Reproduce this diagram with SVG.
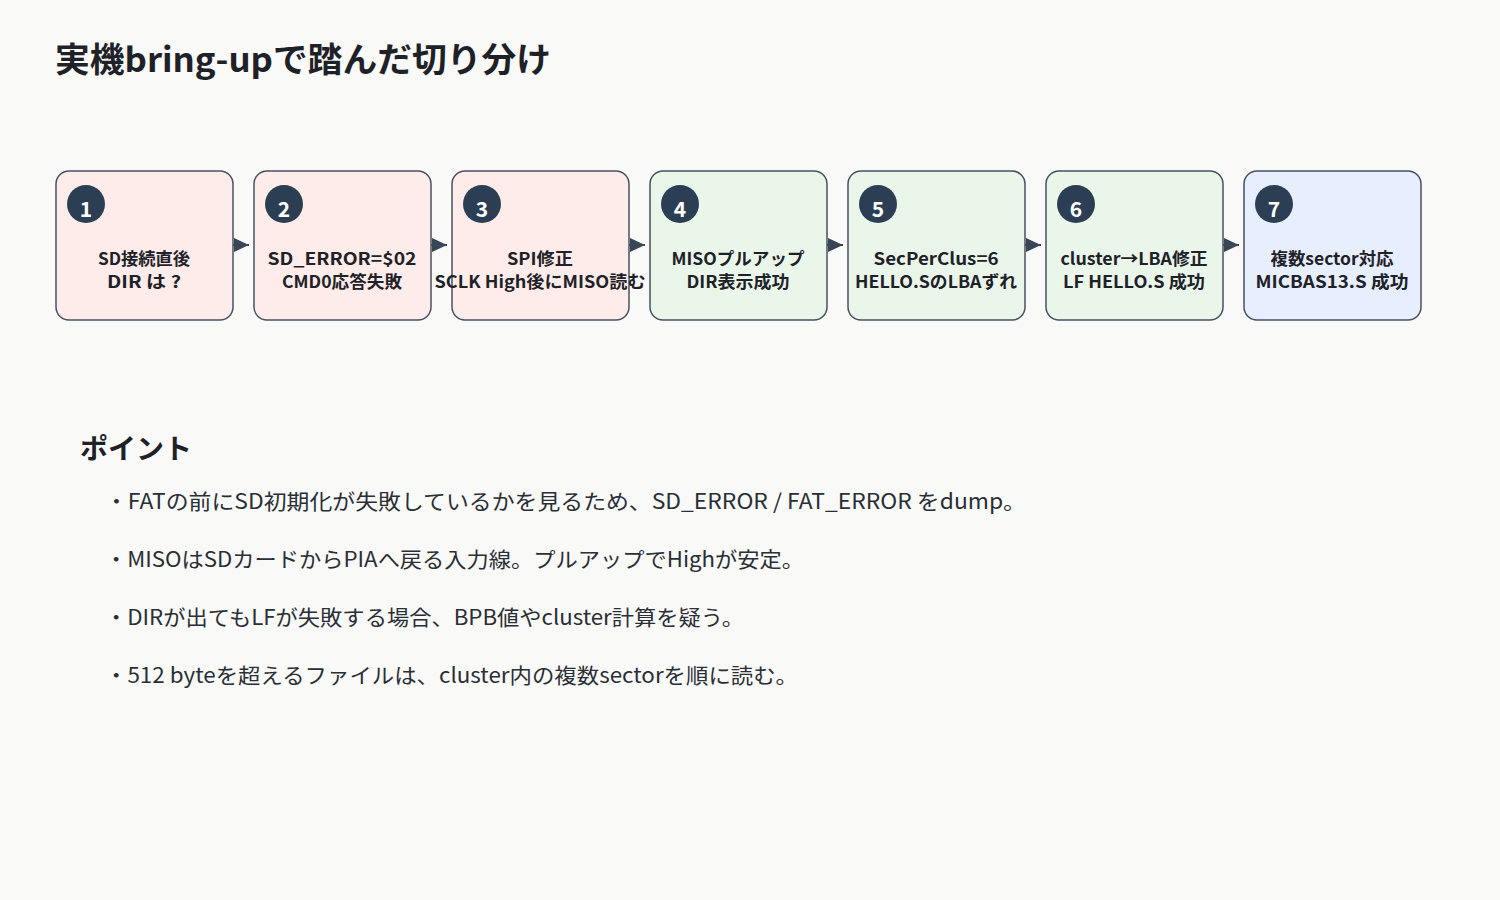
<svg xmlns="http://www.w3.org/2000/svg" width="1500" height="900" viewBox="0 0 1500 900">
<defs>
<style>
.bg{fill:#f9f9f7}
.box{stroke:#4a5160;stroke-width:1.5}
.red{fill:#feecea}
.green{fill:#eaf6ea}
.blue{fill:#e7eefd}
.badge{fill:#2c3e54}
.num{fill:#ffffff;font-family:"Noto Sans CJK JP","Liberation Sans",sans-serif;font-weight:700;font-size:21px;text-anchor:middle}
.lbl{fill:#1e2228;font-family:"Noto Sans CJK JP","Liberation Sans",sans-serif;font-weight:700;font-size:17px;text-anchor:middle}
.title{fill:#1e2228;font-family:"Noto Sans CJK JP","Liberation Sans",sans-serif;font-weight:700;font-size:34px}
.h2{fill:#1e2228;font-family:"Noto Sans CJK JP","Liberation Sans",sans-serif;font-weight:700;font-size:28px}
.body{fill:#2a2e35;font-family:"Noto Sans CJK JP","Liberation Sans",sans-serif;font-size:21px}
.conn{stroke:#3a4556;stroke-width:2;fill:none}
.head{fill:#3a4556}
</style>
<marker id="ah" markerWidth="16" markerHeight="16" refX="15" refY="8" orient="auto" markerUnits="userSpaceOnUse">
<path class="head" d="M0,1 L15,8 L0,15 Z"/>
</marker>
</defs>
<rect class="bg" x="0" y="0" width="1500" height="900"/>
<text class="title" x="55" y="72" textLength="496" lengthAdjust="spacingAndGlyphs">実機bring-upで踏んだ切り分け</text>

<g id="connectors">
<line class="conn" x1="233" y1="245" x2="249" y2="245" marker-end="url(#ah)"/>
<line class="conn" x1="431" y1="245" x2="447" y2="245" marker-end="url(#ah)"/>
<line class="conn" x1="629" y1="245" x2="645" y2="245" marker-end="url(#ah)"/>
<line class="conn" x1="827" y1="245" x2="843" y2="245" marker-end="url(#ah)"/>
<line class="conn" x1="1025" y1="245" x2="1041" y2="245" marker-end="url(#ah)"/>
<line class="conn" x1="1223" y1="245" x2="1239" y2="245" marker-end="url(#ah)"/>
</g>

<g id="node1">
<rect class="box red" x="56" y="171" width="177" height="149" rx="13"/>
<circle class="badge" cx="86" cy="204" r="19"/>
<text class="num" x="86" y="217">1</text>
<text class="lbl" x="144" y="265" textLength="92" lengthAdjust="spacingAndGlyphs">SD接続直後</text>
<text class="lbl" x="144" y="288" textLength="74" lengthAdjust="spacingAndGlyphs">DIR は ?</text>
</g>
<g id="node2">
<rect class="box red" x="254" y="171" width="177" height="149" rx="13"/>
<circle class="badge" cx="284" cy="204" r="19"/>
<text class="num" x="284" y="217">2</text>
<text class="lbl" x="342" y="265" textLength="149" lengthAdjust="spacingAndGlyphs">SD_ERROR=$02</text>
<text class="lbl" x="342" y="288" textLength="120" lengthAdjust="spacingAndGlyphs">CMD0応答失敗</text>
</g>
<g id="node3">
<rect class="box red" x="452" y="171" width="177" height="149" rx="13"/>
<circle class="badge" cx="482" cy="204" r="19"/>
<text class="num" x="482" y="217">3</text>
<text class="lbl" x="540" y="265" textLength="66" lengthAdjust="spacingAndGlyphs">SPI修正</text>
<text class="lbl" x="540" y="288" textLength="211" lengthAdjust="spacingAndGlyphs">SCLK High後にMISO読む</text>
</g>
<g id="node4">
<rect class="box green" x="650" y="171" width="177" height="149" rx="13"/>
<circle class="badge" cx="680" cy="204" r="19"/>
<text class="num" x="680" y="217">4</text>
<text class="lbl" x="738" y="265" textLength="133" lengthAdjust="spacingAndGlyphs">MISOプルアップ</text>
<text class="lbl" x="738" y="288" textLength="103" lengthAdjust="spacingAndGlyphs">DIR表示成功</text>
</g>
<g id="node5">
<rect class="box green" x="848" y="171" width="177" height="149" rx="13"/>
<circle class="badge" cx="878" cy="204" r="19"/>
<text class="num" x="878" y="217">5</text>
<text class="lbl" x="936" y="265" textLength="125" lengthAdjust="spacingAndGlyphs">SecPerClus=6</text>
<text class="lbl" x="936" y="288" textLength="162" lengthAdjust="spacingAndGlyphs">HELLO.SのLBAずれ</text>
</g>
<g id="node6">
<rect class="box green" x="1046" y="171" width="177" height="149" rx="13"/>
<circle class="badge" cx="1076" cy="204" r="19"/>
<text class="num" x="1076" y="217">6</text>
<text class="lbl" x="1134" y="265" textLength="147" lengthAdjust="spacingAndGlyphs">cluster→LBA修正</text>
<text class="lbl" x="1134" y="288" textLength="142" lengthAdjust="spacingAndGlyphs">LF HELLO.S 成功</text>
</g>
<g id="node7">
<rect class="box blue" x="1244" y="171" width="177" height="149" rx="13"/>
<circle class="badge" cx="1274" cy="204" r="19"/>
<text class="num" x="1274" y="217">7</text>
<text class="lbl" x="1332" y="265" textLength="123" lengthAdjust="spacingAndGlyphs">複数sector対応</text>
<text class="lbl" x="1332" y="288" textLength="153" lengthAdjust="spacingAndGlyphs">MICBAS13.S 成功</text>
</g>

<text class="h2" x="80" y="459">ポイント</text>
<text class="body" x="105" y="509" textLength="921" lengthAdjust="spacingAndGlyphs">・FATの前にSD初期化が失敗しているかを見るため、SD_ERROR / FAT_ERROR をdump。</text>
<text class="body" x="105" y="567" textLength="699" lengthAdjust="spacingAndGlyphs">・MISOはSDカードからPIAへ戻る入力線。プルアップでHighが安定。</text>
<text class="body" x="105" y="625" textLength="639" lengthAdjust="spacingAndGlyphs">・DIRが出てもLFが失敗する場合、BPB値やcluster計算を疑う。</text>
<text class="body" x="105" y="683" textLength="693" lengthAdjust="spacingAndGlyphs">・512 byteを超えるファイルは、cluster内の複数sectorを順に読む。</text>
</svg>
